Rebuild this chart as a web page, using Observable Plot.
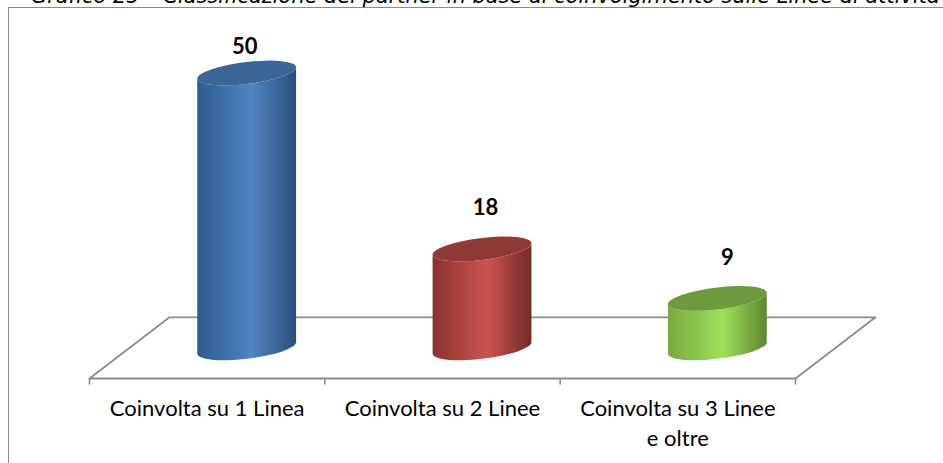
<!DOCTYPE html>
<html lang="it">
<head>
<meta charset="utf-8">
<script src="https://cdn.jsdelivr.net/npm/d3@7"></script>
<script src="https://cdn.jsdelivr.net/npm/@observablehq/plot@0.6"></script>
<style>
  html, body { margin: 0; padding: 0; background: #fff; overflow: hidden; }
  #page { position: relative; width: 943px; height: 463px; overflow: hidden; }
  #title { position: absolute; left: 31px; top: -16px; white-space: nowrap; font: italic 20.9px "DejaVu Sans", sans-serif; color: #000; }
  #box { position: absolute; left: 8px; top: 7px; right: -4px; bottom: -4px; border: 1.5px solid #8a8a8a; }
  #chart { position: absolute; left: 0; top: 0; }
  #chart svg { display: block; background: transparent; }
</style>
</head>
<body>
<div id="page">
  <div id="title">Grafico 25 – Classificazione dei partner in base al coinvolgimento sulle Linee di attività</div>
  <div id="box"></div>
  <div id="chart"></div>
</div>
<script>
// Partner counts by number of activity lines
const categories = ["Coinvolta su 1 Linea", "Coinvolta su 2 Linee", "Coinvolta su 3 Linee\ne oltre"];
const partners = [50, 18, 9];

// Side shading and lid colours of each cylinder
const sideLeft = ["#2f5c8f", "#8a3230", "#78a83f"];
const sideMid = ["#5184c3", "#cc5451", "#9de05a"];
const sideRight = ["#2a4f78", "#732a28", "#5f8531"];
const lidColor = ["#3b6697", "#903a38", "#6d9a3c"];

// Horizontal nudge of each value label, in pixels
const labelShift = [-2.5, 3, 9.5];

// Extent of the 3D floor, in axis units
const floorDepth = 0.34;
const floorFront = -5.48;
const floorBack = 5.65;
const barWidth = 0.42;

const rows = categories.map((name, i) => ({
  name,
  value: partners[i],
  center: i + 0.5 + floorDepth / 2,
  mid: i + 0.5
}));
const edges = d3.range(categories.length + 1);
const last = categories.length;
const floorEdge = [
  { x: 0, y: floorFront },
  { x: floorDepth, y: floorBack },
  { x: last + floorDepth, y: floorBack },
  { x: last, y: floorFront },
  { x: 0, y: floorFront }
];

// Replaces each rectangle with a tilted cylinder spanning the same extent
function cylinder(index, scales, values, dimensions, context) {
  const svg = d3.select(context.document.createElementNS("http://www.w3.org/2000/svg", "g"));
  const tilt = -0.115;
  const ry = 11;
  for (const i of index) {
    const left = Math.min(values.x1[i], values.x2[i]);
    const right = Math.max(values.x1[i], values.x2[i]);
    const rx = (right - left) / 2;
    const base = Math.max(values.y1[i], values.y2[i]);
    const upper = Math.min(values.y1[i], values.y2[i]);
    const h = base - upper;
    const id = `cyl-side-${i}`;
    const grad = svg.append("linearGradient").attr("id", id).attr("x1", 0).attr("x2", 1).attr("y1", 0).attr("y2", 0);
    [[0, sideLeft[i]], [0.55, sideMid[i]], [1, sideRight[i]]]
      .forEach(([o, c]) => grad.append("stop").attr("offset", o).attr("stop-color", c));
    const g = svg.append("g").attr("transform", `matrix(1,${tilt},0,1,${(left + right) / 2},${base})`);
    const shape = `M${-rx},${-h}L${-rx},0A${rx},${ry} 0 0 0 ${rx},0L${rx},${-h}A${rx},${ry} 0 0 1 ${-rx},${-h}Z`;
    g.append("path").attr("d", shape).attr("fill", `url(#${id})`);
    g.append("ellipse").attr("cy", -h).attr("rx", rx).attr("ry", ry).attr("fill", lidColor[i]);
  }
  return svg.node();
}

const axisGray = "#8c8c8c";
const textStyle = { fontFamily: "Lato, sans-serif", fontSize: 22, fill: "#000" };
const maxValue = d3.max(partners);

// The tallest label sits closer to its lid because it reaches the top of the plot
const valueLabels = rows.map((row, i) =>
  Plot.text([row], {
    x: "center",
    y: "value",
    text: "value",
    dx: labelShift[i],
    dy: row.value === maxValue ? -27 : -41,
    ...textStyle,
    fontWeight: 700
  })
);

const chart = Plot.plot({
  width: 943,
  height: 463,
  marginLeft: 89,
  marginRight: 148,
  marginTop: 73,
  marginBottom: 85,
  x: { domain: [0, last], axis: null },
  y: { domain: [floorFront, maxValue], axis: null },
  marks: [
    Plot.line(floorEdge, { x: "x", y: "y", stroke: axisGray, strokeWidth: 1.8 }),
    Plot.ruleX(edges, { y1: floorFront, y2: floorFront - 1.2, stroke: axisGray, strokeWidth: 1.6 }),
    Plot.rect(rows, {
      x1: d => d.center - barWidth / 2,
      x2: d => d.center + barWidth / 2,
      y1: () => 0,
      y2: "value",
      render: cylinder
    }),
    ...valueLabels,
    Plot.text(rows, { x: "mid", y: floorFront, text: "name", dy: 16, lineAnchor: "top", lineHeight: 1.36, ...textStyle })
  ]
});
document.getElementById("chart").append(chart);
</script>
</body>
</html>
